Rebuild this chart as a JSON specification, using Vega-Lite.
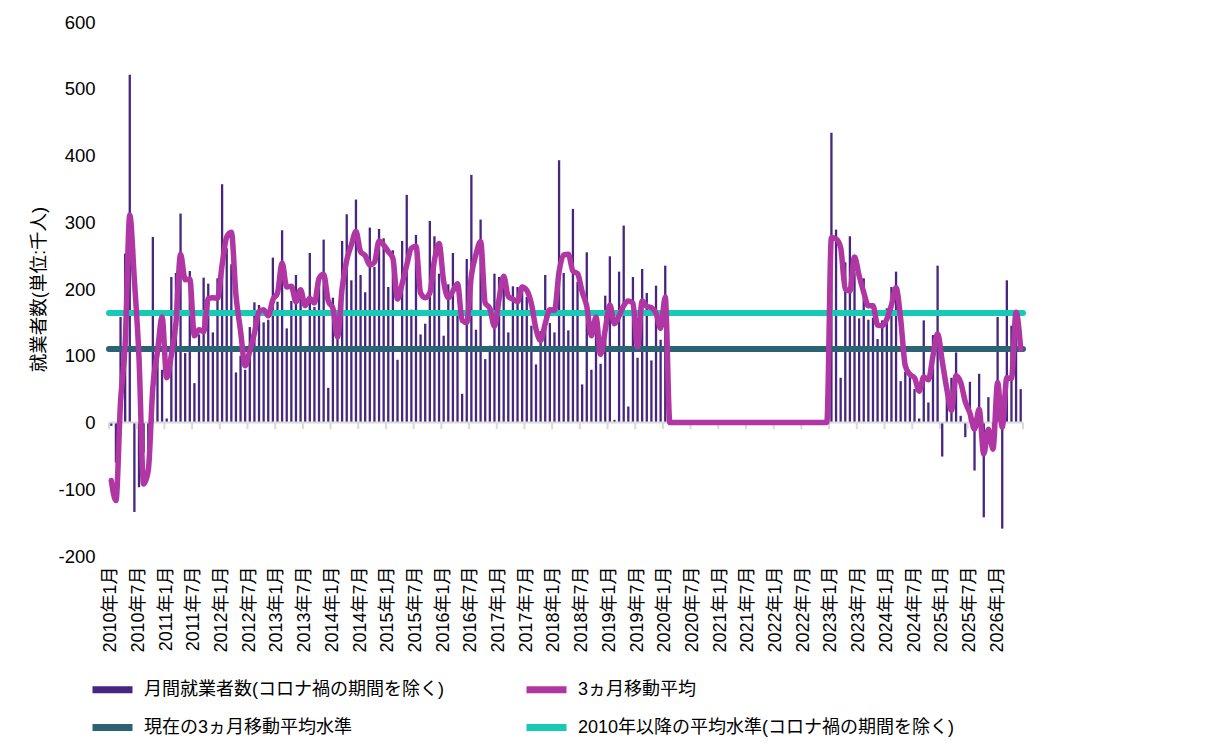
{
  "$schema": "https://vega.github.io/schema/vega-lite/v6.json",
  "width": 914,
  "height": 534,
  "autosize": {"type": "none"},
  "padding": {"left": 109, "top": 22, "right": 197, "bottom": 187},
  "background": "white",
  "config": {
    "view": {"stroke": null},
    "font": "Liberation Sans, Noto Sans CJK JP, sans-serif",
    "axis": {"labelColor": "#000000", "titleColor": "#000000"},
    "legend": {"labelColor": "#000000"}
  },
  "datasets": {
    "monthly": [
      {"month": "2010年1月", "jobs": -5, "ma3": -87},
      {"month": "2010年2月", "jobs": -60, "ma3": -117},
      {"month": "2010年3月", "jobs": 158, "ma3": 31},
      {"month": "2010年4月", "jobs": 253, "ma3": 117},
      {"month": "2010年5月", "jobs": 521, "ma3": 311},
      {"month": "2010年6月", "jobs": -134, "ma3": 213},
      {"month": "2010年7月", "jobs": -97, "ma3": 97},
      {"month": "2010年8月", "jobs": -45, "ma3": -92},
      {"month": "2010年9月", "jobs": -75, "ma3": -72},
      {"month": "2010年10月", "jobs": 278, "ma3": 53},
      {"month": "2010年11月", "jobs": 116, "ma3": 106},
      {"month": "2010年12月", "jobs": 79, "ma3": 158},
      {"month": "2011年1月", "jobs": 6, "ma3": 67},
      {"month": "2011年2月", "jobs": 218, "ma3": 101},
      {"month": "2011年3月", "jobs": 224, "ma3": 149},
      {"month": "2011年4月", "jobs": 313, "ma3": 252},
      {"month": "2011年5月", "jobs": 104, "ma3": 214},
      {"month": "2011年6月", "jobs": 227, "ma3": 215},
      {"month": "2011年7月", "jobs": 59, "ma3": 130},
      {"month": "2011年8月", "jobs": 132, "ma3": 139},
      {"month": "2011年9月", "jobs": 217, "ma3": 136},
      {"month": "2011年10月", "jobs": 208, "ma3": 186},
      {"month": "2011年11月", "jobs": 135, "ma3": 187},
      {"month": "2011年12月", "jobs": 216, "ma3": 186},
      {"month": "2012年1月", "jobs": 357, "ma3": 236},
      {"month": "2012年2月", "jobs": 261, "ma3": 278},
      {"month": "2012年3月", "jobs": 237, "ma3": 285},
      {"month": "2012年4月", "jobs": 75, "ma3": 191},
      {"month": "2012年5月", "jobs": 100, "ma3": 137},
      {"month": "2012年6月", "jobs": 79, "ma3": 85},
      {"month": "2012年7月", "jobs": 143, "ma3": 107},
      {"month": "2012年8月", "jobs": 180, "ma3": 134},
      {"month": "2012年9月", "jobs": 176, "ma3": 166},
      {"month": "2012年10月", "jobs": 150, "ma3": 169},
      {"month": "2012年11月", "jobs": 154, "ma3": 160},
      {"month": "2012年12月", "jobs": 247, "ma3": 184},
      {"month": "2013年1月", "jobs": 181, "ma3": 194},
      {"month": "2013年2月", "jobs": 288, "ma3": 239},
      {"month": "2013年3月", "jobs": 141, "ma3": 203},
      {"month": "2013年4月", "jobs": 182, "ma3": 204},
      {"month": "2013年5月", "jobs": 221, "ma3": 181},
      {"month": "2013年6月", "jobs": 195, "ma3": 199},
      {"month": "2013年7月", "jobs": 110, "ma3": 175},
      {"month": "2013年8月", "jobs": 254, "ma3": 186},
      {"month": "2013年9月", "jobs": 173, "ma3": 179},
      {"month": "2013年10月", "jobs": 220, "ma3": 216},
      {"month": "2013年11月", "jobs": 274, "ma3": 222},
      {"month": "2013年12月", "jobs": 52, "ma3": 182},
      {"month": "2014年1月", "jobs": 187, "ma3": 171},
      {"month": "2014年2月", "jobs": 144, "ma3": 128},
      {"month": "2014年3月", "jobs": 272, "ma3": 201},
      {"month": "2014年4月", "jobs": 312, "ma3": 243},
      {"month": "2014年5月", "jobs": 213, "ma3": 266},
      {"month": "2014年6月", "jobs": 334, "ma3": 286},
      {"month": "2014年7月", "jobs": 221, "ma3": 256},
      {"month": "2014年8月", "jobs": 195, "ma3": 250},
      {"month": "2014年9月", "jobs": 292, "ma3": 236},
      {"month": "2014年10月", "jobs": 233, "ma3": 240},
      {"month": "2014年11月", "jobs": 290, "ma3": 272},
      {"month": "2014年12月", "jobs": 276, "ma3": 266},
      {"month": "2015年1月", "jobs": 203, "ma3": 256},
      {"month": "2015年2月", "jobs": 258, "ma3": 246},
      {"month": "2015年3月", "jobs": 94, "ma3": 185},
      {"month": "2015年4月", "jobs": 272, "ma3": 208},
      {"month": "2015年5月", "jobs": 341, "ma3": 236},
      {"month": "2015年6月", "jobs": 169, "ma3": 261},
      {"month": "2015年7月", "jobs": 281, "ma3": 264},
      {"month": "2015年8月", "jobs": 132, "ma3": 194},
      {"month": "2015年9月", "jobs": 148, "ma3": 187},
      {"month": "2015年10月", "jobs": 302, "ma3": 194},
      {"month": "2015年11月", "jobs": 279, "ma3": 243},
      {"month": "2015年12月", "jobs": 223, "ma3": 268},
      {"month": "2016年1月", "jobs": 130, "ma3": 211},
      {"month": "2016年2月", "jobs": 207, "ma3": 187},
      {"month": "2016年3月", "jobs": 254, "ma3": 197},
      {"month": "2016年4月", "jobs": 163, "ma3": 208},
      {"month": "2016年5月", "jobs": 43, "ma3": 153},
      {"month": "2016年6月", "jobs": 245, "ma3": 150},
      {"month": "2016年7月", "jobs": 371, "ma3": 220},
      {"month": "2016年8月", "jobs": 139, "ma3": 252},
      {"month": "2016年9月", "jobs": 304, "ma3": 271},
      {"month": "2016年10月", "jobs": 95, "ma3": 179},
      {"month": "2016年11月", "jobs": 115, "ma3": 171},
      {"month": "2016年12月", "jobs": 223, "ma3": 144},
      {"month": "2017年1月", "jobs": 218, "ma3": 185},
      {"month": "2017年2月", "jobs": 215, "ma3": 219},
      {"month": "2017年3月", "jobs": 135, "ma3": 189},
      {"month": "2017年4月", "jobs": 204, "ma3": 185},
      {"month": "2017年5月", "jobs": 203, "ma3": 181},
      {"month": "2017年6月", "jobs": 202, "ma3": 203},
      {"month": "2017年7月", "jobs": 188, "ma3": 198},
      {"month": "2017年8月", "jobs": 145, "ma3": 178},
      {"month": "2017年9月", "jobs": 87, "ma3": 140},
      {"month": "2017年10月", "jobs": 137, "ma3": 123},
      {"month": "2017年11月", "jobs": 221, "ma3": 148},
      {"month": "2017年12月", "jobs": 149, "ma3": 169},
      {"month": "2018年1月", "jobs": 135, "ma3": 168},
      {"month": "2018年2月", "jobs": 393, "ma3": 226},
      {"month": "2018年3月", "jobs": 224, "ma3": 251},
      {"month": "2018年4月", "jobs": 138, "ma3": 252},
      {"month": "2018年5月", "jobs": 320, "ma3": 227},
      {"month": "2018年6月", "jobs": 211, "ma3": 223},
      {"month": "2018年7月", "jobs": 57, "ma3": 196},
      {"month": "2018年8月", "jobs": 255, "ma3": 174},
      {"month": "2018年9月", "jobs": 79, "ma3": 130},
      {"month": "2018年10月", "jobs": 140, "ma3": 158},
      {"month": "2018年11月", "jobs": 88, "ma3": 102},
      {"month": "2018年12月", "jobs": 190, "ma3": 139},
      {"month": "2019年1月", "jobs": 249, "ma3": 176},
      {"month": "2019年2月", "jobs": 4, "ma3": 148},
      {"month": "2019年3月", "jobs": 226, "ma3": 160},
      {"month": "2019年4月", "jobs": 295, "ma3": 175},
      {"month": "2019年5月", "jobs": 24, "ma3": 182},
      {"month": "2019年6月", "jobs": 218, "ma3": 179},
      {"month": "2019年7月", "jobs": 97, "ma3": 113},
      {"month": "2019年8月", "jobs": 230, "ma3": 182},
      {"month": "2019年9月", "jobs": 194, "ma3": 174},
      {"month": "2019年10月", "jobs": 93, "ma3": 172},
      {"month": "2019年11月", "jobs": 205, "ma3": 164},
      {"month": "2019年12月", "jobs": 124, "ma3": 141},
      {"month": "2020年1月", "jobs": 235, "ma3": 188},
      {"month": "2020年2月", "jobs": 0, "ma3": 0},
      {"month": "2020年3月", "jobs": 0, "ma3": 0},
      {"month": "2020年4月", "jobs": 0, "ma3": 0},
      {"month": "2020年5月", "jobs": 0, "ma3": 0},
      {"month": "2020年6月", "jobs": 0, "ma3": 0},
      {"month": "2020年7月", "jobs": 0, "ma3": 0},
      {"month": "2020年8月", "jobs": 0, "ma3": 0},
      {"month": "2020年9月", "jobs": 0, "ma3": 0},
      {"month": "2020年10月", "jobs": 0, "ma3": 0},
      {"month": "2020年11月", "jobs": 0, "ma3": 0},
      {"month": "2020年12月", "jobs": 0, "ma3": 0},
      {"month": "2021年1月", "jobs": 0, "ma3": 0},
      {"month": "2021年2月", "jobs": 0, "ma3": 0},
      {"month": "2021年3月", "jobs": 0, "ma3": 0},
      {"month": "2021年4月", "jobs": 0, "ma3": 0},
      {"month": "2021年5月", "jobs": 0, "ma3": 0},
      {"month": "2021年6月", "jobs": 0, "ma3": 0},
      {"month": "2021年7月", "jobs": 0, "ma3": 0},
      {"month": "2021年8月", "jobs": 0, "ma3": 0},
      {"month": "2021年9月", "jobs": 0, "ma3": 0},
      {"month": "2021年10月", "jobs": 0, "ma3": 0},
      {"month": "2021年11月", "jobs": 0, "ma3": 0},
      {"month": "2021年12月", "jobs": 0, "ma3": 0},
      {"month": "2022年1月", "jobs": 0, "ma3": 0},
      {"month": "2022年2月", "jobs": 0, "ma3": 0},
      {"month": "2022年3月", "jobs": 0, "ma3": 0},
      {"month": "2022年4月", "jobs": 0, "ma3": 0},
      {"month": "2022年5月", "jobs": 0, "ma3": 0},
      {"month": "2022年6月", "jobs": 0, "ma3": 0},
      {"month": "2022年7月", "jobs": 0, "ma3": 0},
      {"month": "2022年8月", "jobs": 0, "ma3": 0},
      {"month": "2022年9月", "jobs": 0, "ma3": 0},
      {"month": "2022年10月", "jobs": 0, "ma3": 0},
      {"month": "2022年11月", "jobs": 0, "ma3": 0},
      {"month": "2022年12月", "jobs": 0, "ma3": 0},
      {"month": "2023年1月", "jobs": 434, "ma3": 277},
      {"month": "2023年2月", "jobs": 289, "ma3": 275},
      {"month": "2023年3月", "jobs": 67, "ma3": 262},
      {"month": "2023年4月", "jobs": 240, "ma3": 200},
      {"month": "2023年5月", "jobs": 279, "ma3": 197},
      {"month": "2023年6月", "jobs": 225, "ma3": 248},
      {"month": "2023年7月", "jobs": 156, "ma3": 220},
      {"month": "2023年8月", "jobs": 216, "ma3": 195},
      {"month": "2023年9月", "jobs": 154, "ma3": 175},
      {"month": "2023年10月", "jobs": 157, "ma3": 175},
      {"month": "2023年11月", "jobs": 125, "ma3": 146},
      {"month": "2023年12月", "jobs": 153, "ma3": 145},
      {"month": "2024年1月", "jobs": 171, "ma3": 155},
      {"month": "2024年2月", "jobs": 203, "ma3": 176},
      {"month": "2024年3月", "jobs": 226, "ma3": 202},
      {"month": "2024年4月", "jobs": 62, "ma3": 155},
      {"month": "2024年5月", "jobs": 76, "ma3": 85},
      {"month": "2024年6月", "jobs": 73, "ma3": 72},
      {"month": "2024年7月", "jobs": 50, "ma3": 67},
      {"month": "2024年8月", "jobs": 6, "ma3": 47},
      {"month": "2024年9月", "jobs": 153, "ma3": 68},
      {"month": "2024年10月", "jobs": 30, "ma3": 64},
      {"month": "2024年11月", "jobs": 131, "ma3": 100},
      {"month": "2024年12月", "jobs": 235, "ma3": 133},
      {"month": "2025年1月", "jobs": -51, "ma3": 92},
      {"month": "2025年2月", "jobs": 38, "ma3": 50},
      {"month": "2025年3月", "jobs": 67, "ma3": 18},
      {"month": "2025年4月", "jobs": 105, "ma3": 70},
      {"month": "2025年5月", "jobs": 10, "ma3": 60},
      {"month": "2025年6月", "jobs": -22, "ma3": 31},
      {"month": "2025年7月", "jobs": 61, "ma3": 14},
      {"month": "2025年8月", "jobs": -72, "ma3": -10},
      {"month": "2025年9月", "jobs": 73, "ma3": 20},
      {"month": "2025年10月", "jobs": -142, "ma3": -47},
      {"month": "2025年11月", "jobs": 38, "ma3": -10},
      {"month": "2025年12月", "jobs": -16, "ma3": -40},
      {"month": "2026年1月", "jobs": 158, "ma3": 60},
      {"month": "2026年2月", "jobs": -159, "ma3": -7},
      {"month": "2026年3月", "jobs": 213, "ma3": 67},
      {"month": "2026年4月", "jobs": 145, "ma3": 66},
      {"month": "2026年5月", "jobs": 137, "ma3": 165},
      {"month": "2026年6月", "jobs": 50, "ma3": 110}
    ],
    "levels": [
      {"series": "現在の3ヵ月移動平均水準", "level": 110},
      {"series": "2010年以降の平均水準(コロナ禍の期間を除く)", "level": 164}
    ],
    "baseline": [{"value": 0}]
  },
  "layer": [
    {
      "data": {"name": "monthly"},
      "mark": {"type": "bar", "width": {"band": 0.5}},
      "encoding": {
        "x": {
          "field": "month",
          "type": "ordinal",
          "sort": null,
          "title": null,
          "scale": {"paddingInner": 0, "paddingOuter": 0},
          "axis": {
            "values": ["2010年1月", "2010年7月", "2011年1月", "2011年7月", "2012年1月", "2012年7月", "2013年1月", "2013年7月", "2014年1月", "2014年7月", "2015年1月", "2015年7月", "2016年1月", "2016年7月", "2017年1月", "2017年7月", "2018年1月", "2018年7月", "2019年1月", "2019年7月", "2020年1月", "2020年7月", "2021年1月", "2021年7月", "2022年1月", "2022年7月", "2023年1月", "2023年7月", "2024年1月", "2024年7月", "2025年1月", "2025年7月", "2026年1月"],
            "labelAngle": -90,
            "labelFontSize": 18,
            "labelPadding": 10,
            "domain": false,
            "ticks": false,
            "grid": false
          }
        },
        "y": {
          "field": "jobs",
          "type": "quantitative",
          "title": "就業者数(単位:千人)",
          "scale": {"domain": [-200, 600], "nice": false, "zero": false},
          "axis": {
            "values": [-200, -100, 0, 100, 200, 300, 400, 500, 600],
            "labelExpr": "datum.value < 0 ? '-' + abs(datum.value) : '' + datum.value",
            "domain": false,
            "ticks": false,
            "grid": false,
            "labelFontSize": 18.5,
            "labelPadding": 14,
            "titleFontSize": 18.5,
            "titleFontWeight": "normal",
            "titlePadding": 9
          }
        },
        "color": {
          "datum": "月間就業者数(コロナ禍の期間を除く)",
          "type": "nominal",
          "title": null,
          "scale": {
            "domain": ["月間就業者数(コロナ禍の期間を除く)", "3ヵ月移動平均", "現在の3ヵ月移動平均水準", "2010年以降の平均水準(コロナ禍の期間を除く)"],
            "range": ["#46267f", "#b036a4", "#2b6274", "#17cab5"]
          }
        }
      }
    },
    {
      "data": {"name": "baseline"},
      "mark": {"type": "rule", "color": "#d9d9d9", "strokeWidth": 2},
      "encoding": {
        "y": {"field": "value", "type": "quantitative", "title": "就業者数(単位:千人)"}
      }
    },
    {
      "data": {"name": "monthly"},
      "transform": [{"filter": "test(/年[17]月$/, datum.month)"}],
      "mark": {"type": "rule", "color": "#d9d9d9", "strokeWidth": 2},
      "encoding": {
        "x": {"field": "month", "type": "ordinal", "sort": null, "title": null, "bandPosition": 0},
        "y": {"datum": 0, "type": "quantitative", "title": "就業者数(単位:千人)"},
        "y2": {"datum": -10}
      }
    },
    {
      "data": {"name": "monthly"},
      "transform": [{"filter": "datum.month === '2026年6月'"}],
      "mark": {"type": "rule", "color": "#d9d9d9", "strokeWidth": 2},
      "encoding": {
        "x": {"field": "month", "type": "ordinal", "sort": null, "title": null, "bandPosition": 1},
        "y": {"datum": 0, "type": "quantitative", "title": "就業者数(単位:千人)"},
        "y2": {"datum": -10}
      }
    },
    {
      "data": {"name": "levels"},
      "mark": {"type": "rule", "strokeWidth": 6, "strokeCap": "round"},
      "encoding": {
        "y": {"field": "level", "type": "quantitative", "title": "就業者数(単位:千人)"},
        "color": {
          "field": "series",
          "type": "nominal",
          "title": null,
          "legend": {
            "values": ["月間就業者数(コロナ禍の期間を除く)", "3ヵ月移動平均", "現在の3ヵ月移動平均水準", "2010年以降の平均水準(コロナ禍の期間を除く)"],
            "orient": "none",
            "direction": "horizontal",
            "legendX": -20,
            "legendY": 644,
            "columns": 2,
            "symbolType": "stroke",
            "symbolSize": 1600,
            "symbolStrokeWidth": 7,
            "labelFontSize": 18,
            "labelLimit": 700,
            "labelOffset": 8,
            "columnPadding": 68,
            "rowPadding": -16,
            "padding": 0
          }
        }
      }
    },
    {
      "data": {"name": "monthly"},
      "mark": {"type": "line", "strokeWidth": 5.5, "interpolate": "monotone", "strokeJoin": "round", "strokeCap": "round"},
      "encoding": {
        "x": {"field": "month", "type": "ordinal", "sort": null, "title": null},
        "y": {"field": "ma3", "type": "quantitative", "title": "就業者数(単位:千人)"},
        "color": {"datum": "3ヵ月移動平均", "type": "nominal", "title": null}
      }
    }
  ]
}
